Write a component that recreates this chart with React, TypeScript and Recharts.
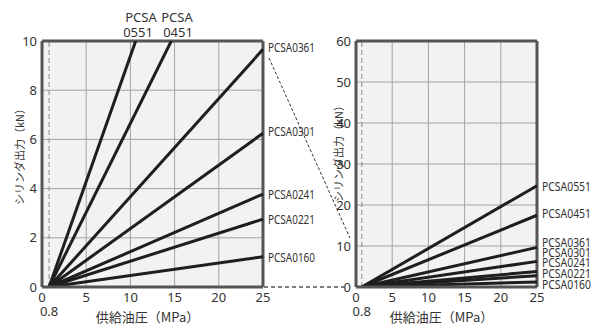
import React from 'react';
import { LineChart, Line, XAxis, YAxis, CartesianGrid, ReferenceLine } from 'recharts';

const pressureMPa = [0.8, 25];
const models = ['PCSA0160', 'PCSA0221', 'PCSA0241', 'PCSA0301', 'PCSA0361', 'PCSA0451', 'PCSA0551'];
const forceAtStart = [0, 0, 0, 0, 0, 0, 0];
const forceAt25 = [1.23, 2.76, 3.78, 6.25, 9.66, 17.5, 24.7];

const xTicks = [0, 5, 10, 15, 20, 25];
const leftTicks = [0, 2, 4, 6, 8, 10];
const rightTicks = [0, 10, 20, 30, 40, 50, 60];

const leftLabelled = ['PCSA0160', 'PCSA0221', 'PCSA0241', 'PCSA0301', 'PCSA0361'];
// vertical nudges so the stacked labels on the right chart don't overlap
const rightLabelDy: Record<string, number> = {
  PCSA0551: 1,
  PCSA0451: -2,
  PCSA0361: -5,
  PCSA0301: -9,
  PCSA0241: -9,
  PCSA0221: -2,
  PCSA0160: 3,
};

const data = pressureMPa.map((p, i) => {
  const row: Record<string, number> = { p };
  models.forEach((m, j) => {
    row[m] = i === 0 ? forceAtStart[j] : forceAt25[j];
  });
  return row;
});

const LINE = '#1e1e1e';
const BORDER = '#555';
const GRID = '#a3a3a3';
const BG = '#f1f2f4';
const TXT = '#333';
const SANS = '"Noto Sans", sans-serif';
const CJK = '"Noto Sans CJK JP", sans-serif';

const tickStyle = { fontSize: 13, fill: TXT, fontFamily: SANS };

const endLabel = (name: string, dy: number, size: number, len: number) => (props: any) => {
  if (props.index !== pressureMPa.length - 1) return null;
  return (
    <text
      key={name}
      x={props.x + 5}
      y={props.y + dy}
      dominantBaseline="central"
      fontSize={size}
      fontFamily={SANS}
      fill={TXT}
      textLength={len}
      lengthAdjust="spacingAndGlyphs"
    >
      {name}
    </text>
  );
};

const Panel = ({ width, marginRight, yWidth, yMax, yTicks, labels, dyMap, labelSize, labelLen }: any) => (
  <LineChart width={width} height={328} data={data} margin={{ top: 41, right: marginRight, left: 0, bottom: 6 }}>
    <CartesianGrid stroke={GRID} fill={BG} fillOpacity={1} strokeWidth={1} />
    <XAxis
      dataKey="p"
      type="number"
      domain={[0, 25]}
      ticks={xTicks}
      tickLine={false}
      tickSize={0}
      tickMargin={6}
      height={35}
      axisLine={{ stroke: BORDER, strokeWidth: 3 }}
      tick={tickStyle}
      label={{ value: '供給油圧（MPa）', position: 'insideBottom', offset: 0, dx: -5, fontSize: 13, fill: TXT, fontFamily: CJK }}
    />
    <YAxis
      type="number"
      domain={[0, yMax]}
      allowDataOverflow
      ticks={yTicks}
      width={yWidth}
      tickLine={false}
      tickSize={0}
      tickMargin={5}
      axisLine={{ stroke: BORDER, strokeWidth: 3 }}
      tick={tickStyle}
    />
    <ReferenceLine
      x={0.8}
      stroke="#8a8a8a"
      strokeDasharray="5 3"
      strokeWidth={1}
      label={{ value: '0.8', position: 'bottom', offset: 20, fontSize: 13, fill: TXT, fontFamily: SANS }}
    />
    <ReferenceLine y={yMax} stroke={BORDER} strokeWidth={3} />
    <ReferenceLine x={25} stroke={BORDER} strokeWidth={3} />
    {models.map((m) => (
      <Line
        key={m}
        dataKey={m}
        type="linear"
        stroke={LINE}
        strokeWidth={3}
        dot={false}
        activeDot={false}
        isAnimationActive={false}
        label={labels.includes(m) ? endLabel(m, dyMap[m] ?? 0, labelSize, labelLen) : false}
      />
    ))}
  </LineChart>
);

export default function App() {
  return (
    <div style={{ position: 'absolute', left: 0, top: 0, width: 598, height: 328, background: '#fff' }}>
      <div style={{ position: 'absolute', left: 0, top: 0 }}>
        <Panel
          width={340}
          marginRight={77}
          yWidth={42}
          yMax={10}
          yTicks={leftTicks}
          labels={leftLabelled}
          dyMap={{ PCSA0361: -2, PCSA0301: -2, PCSA0241: 0, PCSA0221: 0, PCSA0160: 0 }}
          labelSize={13}
          labelLen={47}
        />
      </div>
      <div style={{ position: 'absolute', left: 300, top: 0 }}>
        <Panel
          width={298}
          marginRight={61}
          yWidth={56}
          yMax={60}
          yTicks={rightTicks}
          labels={models}
          dyMap={rightLabelDy}
          labelSize={12.5}
          labelLen={49}
        />
      </div>
      <svg width={598} height={328} style={{ position: 'absolute', left: 0, top: 0, pointerEvents: 'none' }}>
        <line x1={269} y1={58} x2={350} y2={238} stroke="#333" strokeWidth={1} strokeDasharray="3 2" />
        <line x1={264} y1={287} x2={345} y2={287} stroke="#555" strokeWidth={1.5} strokeDasharray="4 3" />
        <g fontFamily={SANS} fontSize={13} fill={TXT} textAnchor="middle">
          <text x={141} y={17} dominantBaseline="central">PCSA</text>
          <text x={177} y={17} dominantBaseline="central">PCSA</text>
          <text x={138} y={32} dominantBaseline="central">0551</text>
          <text x={178} y={32} dominantBaseline="central">0451</text>
        </g>
        <g fontFamily={CJK} fontSize={11} fill={TXT} textAnchor="middle">
          <text x={19} y={154} dominantBaseline="central" transform="rotate(-90 19 154)">シリンダ出力（kN）</text>
          <text x={338} y={151} dominantBaseline="central" transform="rotate(-90 338 151)">シリンダ出力（kN）</text>
        </g>
      </svg>
    </div>
  );
}
